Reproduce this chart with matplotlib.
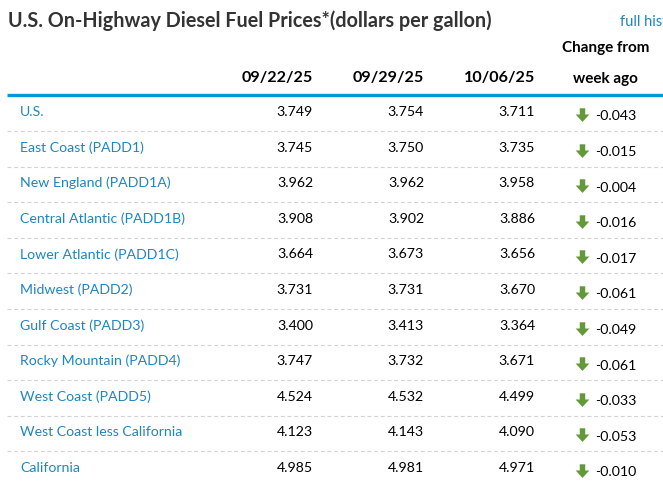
import numpy as np
import matplotlib.pyplot as plt
from matplotlib.path import Path

plt.rcParams["font.family"] = ["Lato", "DejaVu Sans"]

# ------------------------------------------------------------
# Data
# ------------------------------------------------------------
TITLE = "U.S. On-Highway Diesel Fuel Prices*(dollars per gallon)"
DATES = ["09/22/25", "09/29/25", "10/06/25"]
REGIONS = [
    "U.S.",
    "East Coast (PADD1)",
    "New England (PADD1A)",
    "Central Atlantic (PADD1B)",
    "Lower Atlantic (PADD1C)",
    "Midwest (PADD2)",
    "Gulf Coast (PADD3)",
    "Rocky Mountain (PADD4)",
    "West Coast (PADD5)",
    "West Coast less California",
    "California",
]
PRICE_0922 = [3.749, 3.745, 3.962, 3.908, 3.664, 3.731, 3.400, 3.747, 4.524, 4.123, 4.985]
PRICE_0929 = [3.754, 3.750, 3.962, 3.902, 3.673, 3.731, 3.413, 3.732, 4.532, 4.143, 4.981]
PRICE_1006 = [3.711, 3.735, 3.958, 3.886, 3.656, 3.670, 3.364, 3.671, 4.499, 4.090, 4.971]
CHANGE = [-0.043, -0.015, -0.004, -0.016, -0.017, -0.061, -0.049, -0.061, -0.033, -0.053, -0.010]

# ------------------------------------------------------------
# Style
# ------------------------------------------------------------
DARK = "#333333"
BLUE_TEXT = "#1f86c0"
BLUE_RULE = "#0796d6"
GREEN = "#64993a"
DASH = "#d2d2d2"

W, H = 663, 487
ROW0, ROW_STEP = 112.0, 35.6
COL_RIGHT = [313, 424, 535]

fig = plt.figure(figsize=(W / 100, H / 100), dpi=100)
ax = fig.add_axes([0, 0, 1, 1])
ax.set_xlim(0, W)
ax.set_ylim(H, 0)
ax.axis("off")

# title + link (the link runs off the right edge, as in the source page)
ax.text(8, 21, TITLE, fontsize=14.2, fontweight="bold", color=DARK, va="center", ha="left")
ax.text(620, 22, "full history", fontsize=10.5, color=BLUE_TEXT, va="center", ha="left", clip_on=True)

# headers
for xr, d in zip(COL_RIGHT, DATES):
    ax.text(xr, 78, d, fontsize=11.6, fontweight="bold", color="black", ha="right", va="center")
ax.text(606, 48, "Change from", fontsize=11, fontweight="bold", color="black", ha="center", va="center")
ax.text(605, 79, "week ago", fontsize=11, fontweight="bold", color="black", ha="center", va="center")

# thick header rule
ax.plot([7, W], [94.5, 94.5], color=BLUE_RULE, lw=2.4, solid_capstyle="butt")

# down arrow marker
arrow = Path(
    [(-0.22, 0.5), (0.22, 0.5), (0.22, 0.0), (0.55, 0.0), (0.0, -0.6),
     (-0.55, 0.0), (-0.22, 0.0), (-0.22, 0.5)],
    [Path.MOVETO] + [Path.LINETO] * 6 + [Path.CLOSEPOLY],
)

ys = ROW0 + ROW_STEP * np.arange(len(REGIONS))
for i, (name, a, b, c, ch) in enumerate(zip(REGIONS, PRICE_0922, PRICE_0929, PRICE_1006, CHANGE)):
    y = ys[i]
    ax.text(20, y, name, fontsize=10.2, color=BLUE_TEXT, ha="left", va="center")
    for xr, v in zip(COL_RIGHT, (a, b, c)):
        ax.text(xr, y, f"{v:.3f}", fontsize=10.2, color="black", ha="right", va="center")
    ax.text(595, y + 4.5, f"{ch:.3f}", fontsize=10.2, color="black", ha="left", va="center")
    if i < len(REGIONS) - 1:
        ax.plot([7, W], [y + 19, y + 19], color=DASH, lw=0.8, ls=(0, (3.5, 2.5)))

ax.scatter(np.full(len(ys), 582), ys + 2, marker=arrow, s=115, color=GREEN, linewidths=0)

fig.savefig("out.png", dpi=100)
